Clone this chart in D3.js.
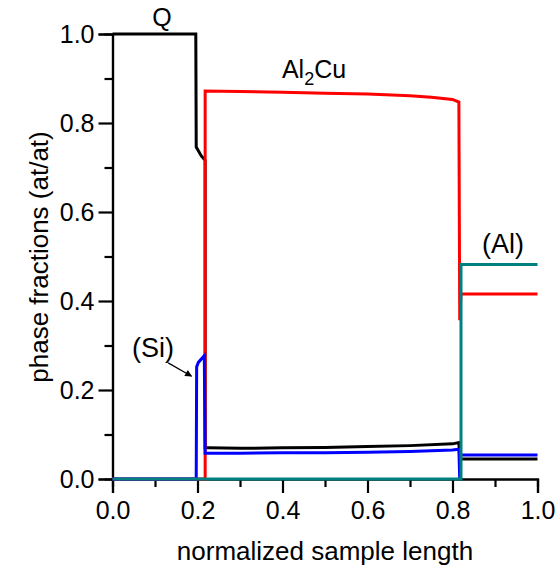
<!DOCTYPE html>
<html>
<head>
<meta charset="utf-8">
<script src="https://cdn.jsdelivr.net/npm/d3@7"></script>
<style>
  html, body { margin: 0; padding: 0; background: #fff; }
  svg { display: block; font-family: "Liberation Sans", Arial, sans-serif; }
</style>
</head>
<body>
<svg id="chart" width="557" height="574"></svg>
<script>
// Phase fractions along the normalized sample length
const xTicks = [0, 0.2, 0.4, 0.6, 0.8, 1.0];
const yTicks = [0, 0.2, 0.4, 0.6, 0.8, 1.0];
const xTickLabels = ["0.0", "0.2", "0.4", "0.6", "0.8", "1.0"];
const yTickLabels = ["0.0", "0.2", "0.4", "0.6", "0.8", "1.0"];

// Q phase (black)
const qX = [0, 0.196, 0.197, 0.209, 0.218, 0.218, 0.225, 0.3, 0.4, 0.5, 0.6, 0.7, 0.8, 0.815, 0.817, 1.0];
const qY = [1.0, 1.0, 0.746, 0.726, 0.716, 0.070, 0.070, 0.069, 0.070, 0.071, 0.073, 0.075, 0.079, 0.082, 0.045, 0.045];

// Al2Cu (red)
const al2cuX = [0, 0.218, 0.218, 0.3, 0.4, 0.5, 0.6, 0.7, 0.75, 0.8, 0.815, 0.817, 0.82, 1.0];
const al2cuY = [0, 0, 0.872, 0.871, 0.869, 0.867, 0.865, 0.861, 0.858, 0.853, 0.847, 0.357, 0.416, 0.416];

// (Si) (blue)
const siX = [0, 0.197, 0.198, 0.202, 0.216, 0.218, 0.225, 0.3, 0.4, 0.5, 0.6, 0.7, 0.8, 0.815, 0.817, 0.819, 1.0];
const siY = [0, 0, 0.252, 0.262, 0.277, 0.058, 0.058, 0.058, 0.059, 0.059, 0.060, 0.062, 0.065, 0.067, 0, 0.054, 0.054];

// (Al) (teal)
const alX = [0, 0.82, 0.82, 1.0];
const alY = [0, 0, 0.482, 0.482];

const svg = d3.select("#chart");
const x = d3.scaleLinear().domain([0, 1]).range([112.5, 537.5]);
const y = d3.scaleLinear().domain([0, 1]).range([479, 34]);

// axes
const xAxis = d3.axisBottom(x).tickValues(xTicks).tickFormat((d, i) => xTickLabels[i]).tickSize(14).tickPadding(8);
const yAxis = d3.axisLeft(y).tickValues(yTicks).tickFormat((d, i) => yTickLabels[i]).tickSize(14).tickPadding(4);
const xMinor = d3.axisBottom(x).tickValues(d3.range(0.1, 1, 0.2)).tickFormat("").tickSize(8);
const yMinor = d3.axisLeft(y).tickValues(d3.range(0.1, 1, 0.2)).tickFormat("").tickSize(8);

function styleAxis(g) {
  g.select(".domain").attr("stroke", "#000").attr("stroke-width", 2.2);
  g.selectAll(".tick line").attr("stroke", "#000").attr("stroke-width", 2.2);
  g.selectAll(".tick text").attr("fill", "#000").style("font-size", "25px").style("font-family", "Liberation Sans, Arial, sans-serif");
}

svg.append("g").attr("transform", `translate(0,${y(0)})`).call(xMinor).call(styleAxis);
svg.append("g").attr("transform", `translate(${x(0)},0)`).call(yMinor).call(styleAxis);
svg.append("g").attr("transform", `translate(0,${y(0)})`).call(xAxis).call(styleAxis);
svg.append("g").attr("transform", `translate(${x(0)},0)`).call(yAxis).call(styleAxis);

// axis titles
svg.append("text").attr("x", 325).attr("y", 560).attr("text-anchor", "middle")
  .style("font-size", "26px").text("normalized sample length");
svg.append("text").attr("transform", "translate(48,257) rotate(-90)").attr("text-anchor", "middle")
  .style("font-size", "26px").text("phase fractions (at/at)");

// series
const line = d3.line().x(d => x(d[0])).y(d => y(d[1]));
const series = [
  { xs: qX, ys: qY, color: "#000000" },
  { xs: al2cuX, ys: al2cuY, color: "#ff0000" },
  { xs: siX, ys: siY, color: "#0000ff" },
  { xs: alX, ys: alY, color: "#008080" }
];
svg.append("g").selectAll("path").data(series).join("path")
  .attr("d", s => line(s.xs.map((v, i) => [v, s.ys[i]])))
  .attr("fill", "none")
  .attr("stroke", s => s.color)
  .attr("stroke-width", 3)
  .attr("stroke-linejoin", "miter");

// labels
svg.append("text").attr("x", 162).attr("y", 26).attr("text-anchor", "middle").style("font-size", "25px").text("Q");
const al2cu = svg.append("text").attr("x", 314).attr("y", 78).attr("text-anchor", "middle").style("font-size", "25px");
al2cu.append("tspan").text("Al");
al2cu.append("tspan").attr("dy", 7).style("font-size", "18px").text("2");
al2cu.append("tspan").attr("dy", -7).text("Cu");
svg.append("text").attr("x", 503).attr("y", 253).attr("text-anchor", "middle").style("font-size", "27px").text("(Al)");
svg.append("text").attr("x", 153).attr("y", 357).attr("text-anchor", "middle").style("font-size", "27px").text("(Si)");

// arrow pointing to the (Si) peak
svg.append("defs").append("marker").attr("id", "arrowhead")
  .attr("viewBox", "0 0 10 10").attr("refX", 9).attr("refY", 5)
  .attr("markerWidth", 9).attr("markerHeight", 7).attr("markerUnits", "userSpaceOnUse")
  .attr("orient", "auto")
  .append("path").attr("d", "M0,0 L10,5 L0,10 z").attr("fill", "#000");
svg.append("line")
  .attr("x1", x(0.131)).attr("y1", y(0.261))
  .attr("x2", x(0.186)).attr("y2", y(0.231))
  .attr("stroke", "#000").attr("stroke-width", 1.2)
  .attr("marker-end", "url(#arrowhead)");
</script>
</body>
</html>
